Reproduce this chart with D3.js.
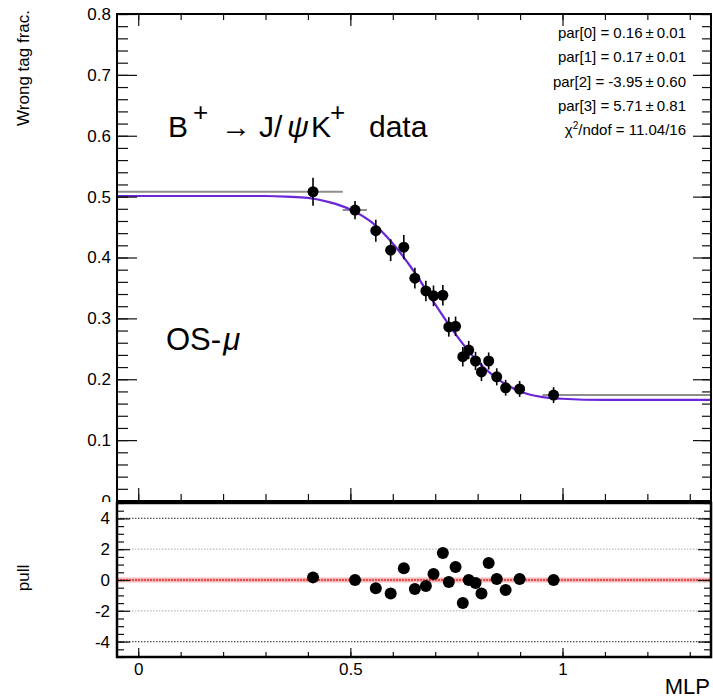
<!DOCTYPE html>
<html lang='en'>
<head>
<meta charset='utf-8'>
<script src='https://cdn.jsdelivr.net/npm/d3@7/dist/d3.min.js'></script>
<style>
  body { margin: 0; background: #fff; }
  svg { display: block; font-family: 'Liberation Sans', Arial, Helvetica, sans-serif; }
</style>
</head>
<body>
<div id='chart'></div>
<script>
// points
var mlp       = [0.412, 0.511, 0.560, 0.595, 0.626, 0.652, 0.678, 0.696, 0.718, 0.732,
                 0.748, 0.765, 0.779, 0.795, 0.809, 0.826, 0.845, 0.866, 0.899, 0.979];
var mlpErrLo  = [0.550, 0.029, 0.012, 0.010, 0.010, 0.009, 0.009, 0.008, 0.008, 0.008,
                 0.008, 0.008, 0.008, 0.008, 0.008, 0.008, 0.009, 0.010, 0.012, 0.026];
var mlpErrHi  = [0.070, 0.028, 0.012, 0.010, 0.010, 0.009, 0.009, 0.008, 0.008, 0.008,
                 0.008, 0.008, 0.008, 0.008, 0.008, 0.008, 0.009, 0.010, 0.012, 0.500];
var wrongTag  = [0.508, 0.478, 0.444, 0.412, 0.417, 0.366, 0.345, 0.337, 0.338, 0.286,
                 0.287, 0.237, 0.248, 0.230, 0.212, 0.230, 0.204, 0.186, 0.184, 0.174];
var wrongErr  = [0.023, 0.015, 0.018, 0.018, 0.020, 0.017, 0.017, 0.017, 0.017, 0.016,
                 0.016, 0.016, 0.015, 0.015, 0.015, 0.014, 0.014, 0.013, 0.013, 0.013];
var pull      = [0.17, 0.00, -0.54, -0.87, 0.76, -0.59, -0.39, 0.39, 1.76, -0.13,
                 0.85, -1.50, 0.00, -0.20, -0.88, 1.10, 0.07, -0.65, 0.07, 0.00];

// fit curve, sampled from the plot
var fitMlp  = [-0.05, 0.30, 0.35, 0.40, 0.45, 0.50, 0.55, 0.60, 0.65, 0.70, 0.75, 0.80, 0.85, 0.90, 0.95, 1.00, 1.10, 1.35];
var fitFrac = [0.501, 0.501, 0.500, 0.498, 0.491, 0.479, 0.458, 0.423, 0.377, 0.323, 0.272, 0.229, 0.199, 0.180, 0.171, 0.168, 0.166, 0.166];

var statLines = ['par[0] = 0.16\u2009±\u20090.01', 'par[1] = 0.17\u2009±\u20090.01',
                 'par[2] = -3.95\u2009±\u20090.60', 'par[3] = 5.71\u2009±\u20090.81'];

var yTicksTop   = [0, 0.1, 0.2, 0.3, 0.4, 0.5, 0.6, 0.7, 0.8];
var yLabelsTop  = ['0', '0.1', '0.2', '0.3', '0.4', '0.5', '0.6', '0.7', '0.8'];
var yTicksPull  = [-4, -2, 0, 2, 4];
var yLabelsPull = ['-4', '-2', '0', '2', '4'];
var xTicks      = [0, 0.5, 1];
var xLabels     = ['0', '0.5', '1'];

var width = 713, height = 699;
var svg = d3.select('#chart').append('svg')
    .attr('width', width)
    .attr('height', height);

var x = d3.scaleLinear().domain([-0.05, 1.35]).range([117, 711]);
var yTop = d3.scaleLinear().domain([0, 0.8]).range([501, 14]);
var yPull = d3.scaleLinear().domain([-5, 5]).range([657, 503]);

var xMinor = d3.range(0, 1.35, 0.1);
var yMinorTop = d3.range(0, 0.801, 0.02);
var yMinorPull = d3.range(-5, 5.01, 0.5);

function axis(g, gen) {
  g.call(gen);
  g.select('.domain').remove();
  g.selectAll('.tick line').attr('stroke', '#111').attr('stroke-width', 1.2);
  g.attr('font-size', 17).attr('font-family', null);
  return g;
}

// ---------- top pad ----------
var topPad = svg.append('g');
svg.append('clipPath').attr('id', 'clipTop')
  .append('rect').attr('x', 117).attr('y', 14).attr('width', 594).attr('height', 487);

var pts = mlp.map(function (d, i) {
  return { x: d, lo: mlpErrLo[i], hi: mlpErrHi[i], y: wrongTag[i], e: wrongErr[i], p: pull[i] };
});

var marks = topPad.append('g').attr('clip-path', 'url(#clipTop)');

marks.selectAll('.xerr').data(pts).enter().append('line')
    .attr('x1', function (d) { return x(d.x - d.lo); })
    .attr('x2', function (d) { return x(d.x + d.hi); })
    .attr('y1', function (d) { return yTop(d.y); })
    .attr('y2', function (d) { return yTop(d.y); })
    .attr('stroke', '#8c8c8c').attr('stroke-width', 2);

var fitLine = d3.line()
    .x(function (d, i) { return x(fitMlp[i]); })
    .y(function (d) { return yTop(d); })
    .curve(d3.curveMonotoneX);
marks.append('path').datum(fitFrac)
    .attr('d', fitLine)
    .attr('fill', 'none')
    .attr('stroke', '#6a26d8')
    .attr('stroke-width', 2.2);

marks.selectAll('.yerr').data(pts).enter().append('line')
    .attr('x1', function (d) { return x(d.x); })
    .attr('x2', function (d) { return x(d.x); })
    .attr('y1', function (d) { return yTop(d.y - d.e); })
    .attr('y2', function (d) { return yTop(d.y + d.e); })
    .attr('stroke', '#000').attr('stroke-width', 1.6);

marks.selectAll('circle').data(pts).enter().append('circle')
    .attr('cx', function (d) { return x(d.x); })
    .attr('cy', function (d) { return yTop(d.y); })
    .attr('r', 5.5)
    .attr('fill', '#000');

axis(topPad.append('g').attr('transform', 'translate(117,0)'),
     d3.axisLeft(yTop).tickValues(yMinorTop).tickFormat('').tickSize(-11));
axis(topPad.append('g').attr('transform', 'translate(117,0)'),
     d3.axisLeft(yTop).tickValues(yTicksTop).tickFormat(function (d, i) { return yLabelsTop[i]; })
       .tickSize(-20).tickPadding(6));
axis(topPad.append('g').attr('transform', 'translate(711,0)'),
     d3.axisRight(yTop).tickValues(yMinorTop).tickFormat('').tickSize(-9));
axis(topPad.append('g').attr('transform', 'translate(711,0)'),
     d3.axisRight(yTop).tickValues(yTicksTop).tickFormat('').tickSize(-18));
axis(topPad.append('g').attr('transform', 'translate(0,14)'),
     d3.axisTop(x).tickValues(xMinor).tickFormat('').tickSize(-6));
axis(topPad.append('g').attr('transform', 'translate(0,14)'),
     d3.axisTop(x).tickValues(xTicks).tickFormat('').tickSize(-12));
axis(topPad.append('g').attr('transform', 'translate(0,501)'),
     d3.axisBottom(x).tickValues(xMinor).tickFormat('').tickSize(-7));
axis(topPad.append('g').attr('transform', 'translate(0,501)'),
     d3.axisBottom(x).tickValues(xTicks).tickFormat('').tickSize(-13));

topPad.append('rect')
    .attr('x', 117).attr('y', 14).attr('width', 594).attr('height', 487)
    .attr('fill', 'none').attr('stroke', '#000').attr('stroke-width', 2);

topPad.append('text')
    .attr('transform', 'translate(29,10) rotate(-90)')
    .attr('text-anchor', 'end')
    .attr('font-size', 17)
    .text('Wrong tag frac.');

// stats box text
var statBase = [38, 62, 87, 111];
topPad.selectAll('.stat').data(statLines).enter().append('text')
    .attr('x', 686)
    .attr('y', function (d, i) { return statBase[i]; })
    .attr('text-anchor', 'end')
    .attr('font-size', 15)
    .text(function (d) { return d; });
var chi = topPad.append('text').attr('x', 686).attr('y', 135)
    .attr('text-anchor', 'end').attr('font-size', 15);
chi.append('tspan').text('χ');
chi.append('tspan').attr('dy', -6).attr('font-size', 10).text('2');
chi.append('tspan').attr('dy', 6).text('/ndof = 11.04/16');

// decay label
var lab = topPad.append('g').attr('font-size', 30);
lab.append('text').attr('x', 168).attr('y', 137).text('B');
lab.append('text').attr('x', 193).attr('y', 121).attr('font-size', 26).text('+');
lab.append('text').attr('x', 221).attr('y', 137).text('→');
lab.append('text').attr('x', 259).attr('y', 137).text('J/');
lab.append('text').attr('x', 287).attr('y', 137).attr('font-style', 'italic').text('ψ');
lab.append('text').attr('x', 311).attr('y', 137).text('K');
lab.append('text').attr('x', 330).attr('y', 121).attr('font-size', 26).text('+');
lab.append('text').attr('x', 369).attr('y', 137).text('data');

var os = topPad.append('text').attr('x', 166).attr('y', 350).attr('font-size', 31);
os.append('tspan').text('OS-');
os.append('tspan').attr('font-style', 'italic').attr('dx', 2).text('μ');

// ---------- pull pad ----------
svg.append('rect').attr('x', 0).attr('y', 502).attr('width', width).attr('height', height - 502)
    .attr('fill', '#fff');
var bot = svg.append('g');

bot.append('line')
    .attr('x1', 117).attr('x2', 711).attr('y1', yPull(0)).attr('y2', yPull(0))
    .attr('stroke', '#f4b8b8').attr('stroke-width', 5);
bot.append('line')
    .attr('x1', 117).attr('x2', 711).attr('y1', yPull(0)).attr('y2', yPull(0))
    .attr('stroke', '#e02a2a').attr('stroke-width', 1.5).attr('stroke-dasharray', '2,1');

bot.selectAll('.grid').data([-4, -2, 2, 4]).enter().append('line')
    .attr('x1', 117).attr('x2', 711)
    .attr('y1', function (d) { return yPull(d); })
    .attr('y2', function (d) { return yPull(d); })
    .attr('stroke', function (d) { return Math.abs(d) === 4 ? '#555' : '#bbb'; })
    .attr('stroke-width', 1.3)
    .attr('stroke-dasharray', '1.5,1.5');

bot.selectAll('circle').data(pts).enter().append('circle')
    .attr('cx', function (d) { return x(d.x); })
    .attr('cy', function (d) { return yPull(d.p); })
    .attr('r', 6)
    .attr('fill', '#000');

axis(bot.append('g').attr('transform', 'translate(117,0)'),
     d3.axisLeft(yPull).tickValues(yMinorPull).tickFormat('').tickSize(-7));
axis(bot.append('g').attr('transform', 'translate(117,0)'),
     d3.axisLeft(yPull).tickValues(yTicksPull).tickFormat(function (d, i) { return yLabelsPull[i]; })
       .tickSize(-13).tickPadding(7));
axis(bot.append('g').attr('transform', 'translate(711,0)'),
     d3.axisRight(yPull).tickValues(yMinorPull).tickFormat('').tickSize(-7));
axis(bot.append('g').attr('transform', 'translate(711,0)'),
     d3.axisRight(yPull).tickValues(yTicksPull).tickFormat('').tickSize(-13));
axis(bot.append('g').attr('transform', 'translate(0,657)'),
     d3.axisBottom(x).tickValues(xMinor).tickFormat('').tickSize(-5));
axis(bot.append('g').attr('transform', 'translate(0,657)'),
     d3.axisBottom(x).tickValues(xTicks).tickFormat(function (d, i) { return xLabels[i]; })
       .tickSize(-9).tickPadding(6));

bot.append('rect')
    .attr('x', 117).attr('y', 503).attr('width', 594).attr('height', 154)
    .attr('fill', 'none').attr('stroke', '#000').attr('stroke-width', 2.5);

bot.append('text')
    .attr('transform', 'translate(29,578) rotate(-90)')
    .attr('text-anchor', 'middle')
    .attr('font-size', 17)
    .text('pull');

bot.append('text')
    .attr('x', 710).attr('y', 694)
    .attr('text-anchor', 'end')
    .attr('font-size', 22)
    .text('MLP');
</script>
</body>
</html>
